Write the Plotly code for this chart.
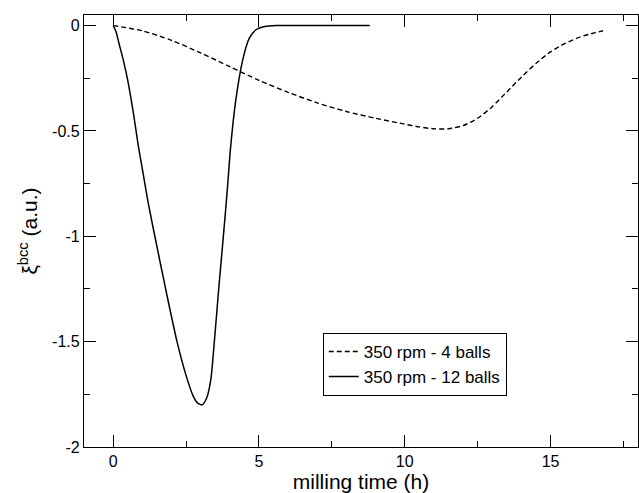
import plotly.graph_objects as go

# Data
time_4balls = [0, 1, 2, 3, 4, 5, 6, 7, 8, 9, 10, 10.5, 11, 11.5, 12, 12.5, 13, 13.5,
               14, 14.5, 15, 15.5, 16, 16.5, 16.8]
xi_4balls = [0, -0.025, -0.07, -0.13, -0.195, -0.26, -0.317, -0.367, -0.408, -0.44, -0.468,
             -0.481, -0.49, -0.49, -0.475, -0.44, -0.385, -0.315, -0.245, -0.18, -0.125,
             -0.085, -0.055, -0.035, -0.025]

time_12balls = [0, 0.1, 0.2, 0.35, 0.5, 0.7, 0.85, 1.0, 1.2, 1.43, 1.8, 2.19, 2.5, 2.75,
                2.9, 3.05, 3.2, 3.35, 3.47, 3.62, 3.78, 3.92, 4.02, 4.2, 4.44, 4.67, 4.9,
                5.2, 5.6, 7.0, 8.8]
xi_12balls = [0, -0.03, -0.085, -0.165, -0.26, -0.42, -0.56, -0.68, -0.84, -1.0, -1.25,
              -1.5, -1.66, -1.76, -1.792, -1.80, -1.77, -1.68, -1.5, -1.25, -1.0, -0.77,
              -0.59, -0.36, -0.165, -0.06, -0.02, -0.005, 0, 0, 0]

series_names = ["350 rpm - 4 balls", "350 rpm - 12 balls"]
x_tickvals = [0, 5, 10, 15]
x_ticktext = ["0", "5", "10", "15"]
y_tickvals = [0, -0.5, -1, -1.5, -2]
y_ticktext = ["0", "-0.5", "-1", "-1.5", "-2"]

FONT = "Liberation Sans, Arial, Helvetica, sans-serif"

fig = go.Figure()
fig.add_trace(go.Scatter(x=time_4balls, y=xi_4balls, mode="lines", name=series_names[0],
                         line=dict(color="black", width=1.4, dash="5px,3px", shape="spline",
                                   smoothing=0.7)))
fig.add_trace(go.Scatter(x=time_12balls, y=xi_12balls, mode="lines", name=series_names[1],
                         line=dict(color="black", width=1.5, shape="spline", smoothing=0.6)))

axis_common = dict(showline=True, linecolor="black", linewidth=1.2, mirror="allticks",
                   ticks="inside", ticklen=12, tickwidth=1.2, tickcolor="black",
                   showgrid=False, zeroline=False,
                   tickfont=dict(family=FONT, size=16, color="black"))

fig.update_xaxes(range=[-1, 18], tickvals=x_tickvals, ticktext=x_ticktext,
                 minor=dict(dtick=2.5, tick0=0, ticks="inside", ticklen=6, tickwidth=1.2,
                            tickcolor="black", showgrid=False),
                 title=dict(text="milling time (h)", font=dict(family=FONT, size=21, color="black"),
                            standoff=4),
                 **axis_common)
fig.update_yaxes(range=[-2, 0.05], tickvals=y_tickvals, ticktext=y_ticktext,
                 minor=dict(dtick=0.25, tick0=0, ticks="inside", ticklen=6, tickwidth=1.2,
                            tickcolor="black", showgrid=False),
                 title=dict(text="ξ<sup>bcc</sup> (a.u.)", font=dict(family=FONT, size=21, color="black"),
                            standoff=8),
                 **axis_common)

fig.update_layout(
    width=639, height=493,
    margin=dict(l=84, r=1, t=15, b=46),
    paper_bgcolor="white", plot_bgcolor="white",
    showlegend=True,
    legend=dict(x=0.431, y=0.264, xanchor="left", yanchor="top",
                bordercolor="black", borderwidth=1, bgcolor="white",
                font=dict(family=FONT, size=17, color="black"),
                itemwidth=30, tracegroupgap=0),
)

fig.write_html("out.html", config={"displayModeBar": False},
               post_script="document.body.style.margin='0';document.body.style.padding='0';")
